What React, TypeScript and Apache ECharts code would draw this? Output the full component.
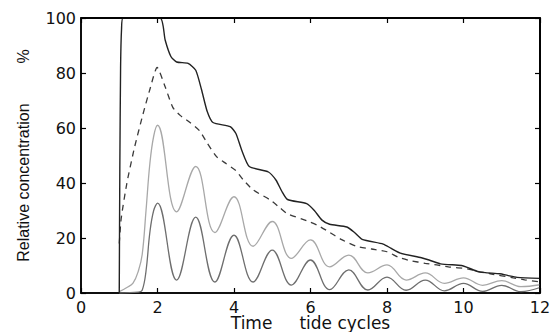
import React, { useEffect, useRef } from "react";
import * as echarts from "echarts";

const xTicks = [0, 2, 4, 6, 8, 10, 12];
const yTicks = [0, 20, 40, 60, 80, 100];

// Maximum concentration (upper solid line)
const maxConc: [number, number][] = [
  [1.0, 0], [1.015, 45], [1.035, 82], [1.06, 96], [1.1, 100], [2.07, 100],
  [2.2, 92], [2.35, 86], [2.5, 84], [2.8, 83.5], [3.0, 81], [3.15, 74],
  [3.3, 66], [3.45, 62], [3.9, 60.5], [4.05, 58], [4.2, 52], [4.4, 46],
  [4.9, 44], [5.1, 41], [5.25, 37], [5.4, 34], [5.9, 32.5], [6.1, 30],
  [6.3, 26.5], [6.5, 25], [6.95, 24], [7.15, 22], [7.35, 19.5], [7.9, 17.8],
  [8.1, 16.3], [8.35, 14.5], [8.9, 12.8], [9.1, 12], [9.4, 10.6], [9.95, 10],
  [10.1, 9.3], [10.4, 7.7], [10.95, 7], [11.15, 6.4], [11.4, 5.7], [12, 5.3],
];

// Mean concentration (dashed line)
const meanConc: [number, number][] = [
  [1.0, 18], [1.05, 27], [1.2, 40], [1.4, 53], [1.62, 65], [1.8, 74],
  [1.99, 82], [2.2, 75], [2.4, 67.5], [2.6, 64.5], [2.85, 62], [3.1, 59],
  [3.3, 54.5], [3.55, 49.5], [3.8, 47], [4.05, 44.5], [4.25, 41], [4.5, 37.5],
  [4.95, 33.8], [5.2, 31], [5.4, 28.8], [5.9, 26.3], [6.2, 24.5], [6.45, 22.5],
  [6.8, 19.5], [7.2, 17], [7.6, 16], [8.0, 15], [8.3, 13], [8.6, 11.8],
  [9.0, 10.8], [9.3, 10.2], [9.6, 9.5], [10.1, 8.8], [10.4, 7.8], [10.7, 7],
  [11.3, 5.5], [11.6, 4.8], [12, 4],
];

// Oscillating concentration, upper (light grey)
const oscUpper: [number, number][] = [
  [1.0, 0.5], [1.2, 2], [1.36, 3.6], [1.5, 8], [1.6, 14], [1.7, 30],
  [1.8, 47], [1.9, 57], [2.0, 61], [2.5, 29.5], [3.0, 46], [3.5, 22],
  [4.0, 35], [4.5, 17], [5.0, 26], [5.5, 12.6], [6.0, 19.3], [6.5, 9.5],
  [7.0, 13.8], [7.5, 7.3], [8.0, 10.2], [8.5, 4.7], [9.0, 7.3], [9.5, 3.5],
  [10.0, 5.5], [10.5, 2.8], [11.0, 4.5], [11.5, 2.3], [12.0, 3],
];

// Oscillating concentration, lower (grey)
const oscLower: [number, number][] = [
  [1.0, 0], [1.5, 0.3], [1.6, 1], [1.7, 8], [1.8, 22], [1.9, 30],
  [2.0, 32.7], [2.5, 4.7], [3.0, 27.6], [3.5, 4], [4.0, 21], [4.5, 4],
  [5.0, 15.6], [5.5, 2.9], [6.0, 12], [6.5, 1.2], [7.0, 8.4], [7.5, 1.1],
  [8.0, 5.8], [8.5, 1], [9.0, 4.7], [9.5, 0.8], [10.0, 3.5], [10.5, 0.6],
  [11.0, 2.8], [11.5, 0.5], [12.0, 2],
];

// Corners of the axes box (top and right edges)
const boxFrame: [number, number][] = [[0, 100], [12, 100], [12, 0]];

export default function App() {
  const ref = useRef<HTMLDivElement>(null);
  useEffect(() => {
    document.body.style.margin = "0";
    if (!ref.current) return;
    const chart = echarts.init(ref.current, null, { renderer: "svg" });
    const font = "DejaVu Sans";
    const mkLine = () => ({ show: true, onZero: false, lineStyle: { color: "#000", width: 1.5 } });
    const mkTick = () => ({ show: true, inside: true, length: 5, lineStyle: { color: "#000", width: 1.2 } });
    const axisCommonX = { type: "value", min: 0, max: 12, interval: 2, splitLine: { show: false } };
    const axisCommonY = { type: "value", min: 0, max: 100, interval: 20, splitLine: { show: false } };
    chart.setOption({
      animation: false,
      backgroundColor: "#fff",
      grid: [
        {
          left: 81, right: 11, top: 18, bottom: 39, outerBoundsMode: "none", containLabel: false,
          show: true, borderColor: "#000", borderWidth: 1.5, backgroundColor: "transparent",
        },
      ],
      xAxis: [
        {
          ...axisCommonX, gridIndex: 0, position: "bottom",
          axisLine: mkLine(), axisTick: mkTick(),
          axisLabel: {
            margin: 8, color: "#111", fontFamily: font, fontSize: 16, lineHeight: 12,
            formatter: (v: number) => (xTicks.includes(v) ? String(v) : ""),
          },
          name: "Time     tide cycles",
          nameLocation: "middle", nameGap: 22, nameMoveOverlap: false,
          nameTextStyle: { color: "#111", fontFamily: font, fontSize: 17, lineHeight: 16, verticalAlign: "top" },
        },
        {
          ...axisCommonX, gridIndex: 0, position: "top",
          axisLine: mkLine(), axisTick: mkTick(), axisLabel: { show: false },
        },
      ],
      yAxis: [
        {
          ...axisCommonY, gridIndex: 0, position: "left",
          axisLine: mkLine(), axisTick: mkTick(),
          axisLabel: {
            margin: 5, color: "#111", fontFamily: font, fontSize: 16,
            formatter: (v: number) => (yTicks.includes(v) ? String(v) : ""),
          },
          name: "Relative concentration         %",
          nameLocation: "middle", nameGap: 50, nameMoveOverlap: false,
          nameTextStyle: { color: "#111", fontFamily: "Liberation Sans", fontSize: 16 },
        },
        {
          ...axisCommonY, gridIndex: 0, position: "right",
          axisLine: mkLine(), axisTick: mkTick(), axisLabel: { show: false },
        },
      ],
      series: [
        {
          type: "line", data: oscLower, showSymbol: false, smooth: 0.4, xAxisIndex: 0, yAxisIndex: 0,
          lineStyle: { color: "#6e6e6e", width: 1.3 },
        },
        {
          type: "line", data: oscUpper, showSymbol: false, smooth: 0.4, xAxisIndex: 0, yAxisIndex: 0,
          lineStyle: { color: "#a8a8a8", width: 1.3 },
        },
        {
          type: "line", data: meanConc, showSymbol: false, smooth: 0.2, xAxisIndex: 0, yAxisIndex: 0,
          lineStyle: { color: "#3a3a3a", width: 1.3, type: [6, 5] },
        },
        {
          type: "line", data: maxConc, showSymbol: false, smooth: 0.2, xAxisIndex: 0, yAxisIndex: 0,
          lineStyle: { color: "#222", width: 1.4 },
        },
        {
          type: "line", data: boxFrame, showSymbol: false, silent: true, clip: false,
          xAxisIndex: 1, yAxisIndex: 1,
          lineStyle: { color: "#000", width: 1.5 },
        },
      ],
    });
    return () => chart.dispose();
  }, []);
  return <div ref={ref} style={{ width: 551, height: 332 }} />;
}
